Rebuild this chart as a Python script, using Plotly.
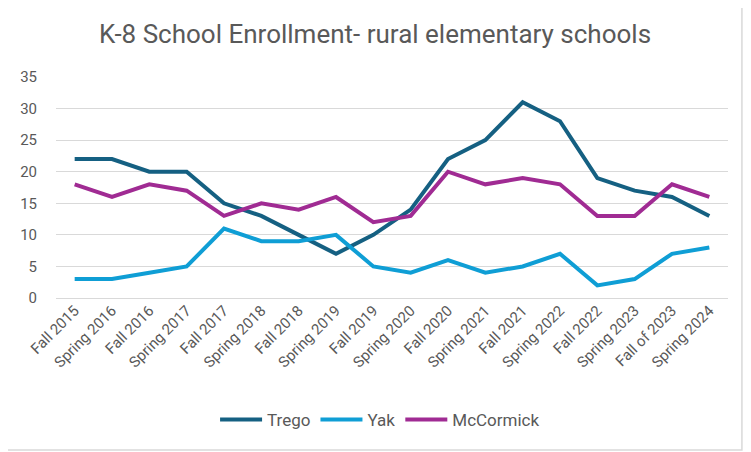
import plotly.graph_objects as go

terms = ['Fall 2015', 'Spring 2016', 'Fall 2016', 'Spring 2017', 'Fall 2017', 'Spring 2018',
         'Fall 2018', 'Spring 2019', 'Fall 2019', 'Spring 2020', 'Fall 2020', 'Spring 2021',
         'Fall 2021', 'Spring 2022', 'Fall 2022', 'Spring 2023', 'Fall of 2023', 'Spring 2024']

trego = [22, 22, 20, 20, 15, 13, 10, 7, 10, 14, 22, 25, 31, 28, 19, 17, 16, 13]
yak = [3, 3, 4, 5, 11, 9, 9, 10, 5, 4, 6, 4, 5, 7, 2, 3, 7, 8]
mccormick = [18, 16, 18, 17, 13, 15, 14, 16, 12, 13, 20, 18, 19, 18, 13, 13, 18, 16]

# the page body has an 8px default margin, so lay things out 8px up/left
W, H = 751, 452
off = 8
ml, mr, mt, mb = 52 - off, W - (728 - off), 77 - off, H - (298 - off)

fig = go.Figure()
fig.add_trace(go.Scatter(x=terms, y=trego, name='Trego', mode='lines',
                         line=dict(color='#156082', width=4)))
fig.add_trace(go.Scatter(x=terms, y=yak, name='Yak', mode='lines',
                         line=dict(color='#0F9ED5', width=4)))
fig.add_trace(go.Scatter(x=terms, y=mccormick, name='McCormick', mode='lines',
                         line=dict(color='#A02B93', width=4)))

# light grey border round the whole chart
pw, ph = W - ml - mr, H - mt - mb
fig.add_shape(type='rect', xref='paper', yref='paper',
              x0=(-10 - ml) / pw, x1=(742 - off - ml) / pw,
              y0=-((450 - off) - (H - mb)) / ph, y1=1 + (mt + 10) / ph,
              line=dict(color='#D9D9D9', width=1.5))

fig.update_layout(
    width=W, height=H,
    margin=dict(l=ml, r=mr, t=mt, b=mb),
    paper_bgcolor='white', plot_bgcolor='white',
    font=dict(family='Roboto', color='#595959', size=15),
    title=dict(text='K-8 School Enrollment- rural elementary schools', x=(375 - off) / W, xanchor='center',
               y=1 - (34 - off) / H, yanchor='middle', font=dict(size=26, color='#595959')),
    showlegend=True,
    legend=dict(orientation='h', x=(378 - off - ml) / pw, xanchor='center',
                y=-((420 - off) - (H - mb)) / ph, yanchor='middle',
                itemwidth=42, font=dict(size=17, color='#595959')),
    xaxis=dict(tickangle=-45, showgrid=False, showline=False, ticks='',
               tickfont=dict(size=15), range=[-0.5, len(terms) - 0.5]),
    yaxis=dict(range=[0, 35], dtick=5, gridcolor='#D9D9D9', gridwidth=1.3,
               zeroline=True, zerolinecolor='#D9D9D9', zerolinewidth=1.3,
               tickfont=dict(size=15), ticklabelstandoff=18,
               showline=False, ticks=''),
)

fig.write_html('out.html')
